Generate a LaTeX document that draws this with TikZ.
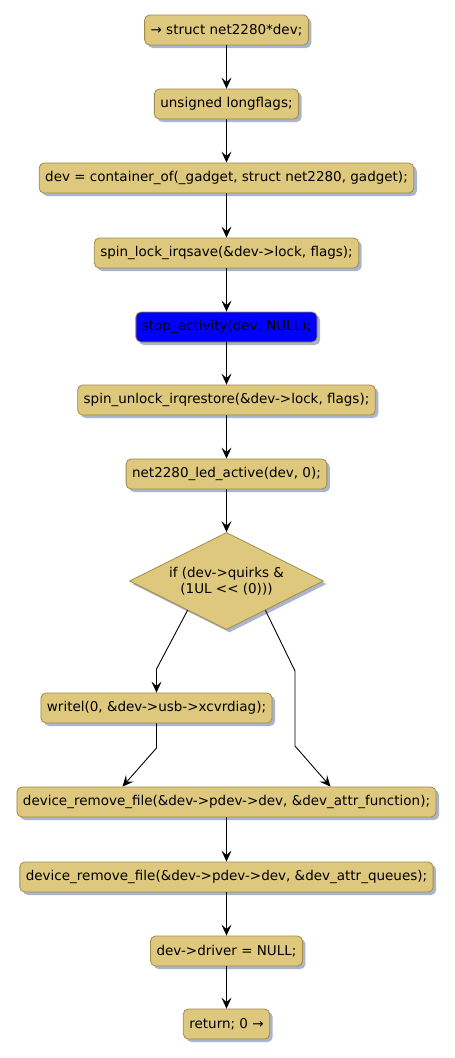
\documentclass[tikz,border=0pt]{standalone}
\usepackage{fontspec}
\setmainfont{DejaVu Sans}
\usetikzlibrary{arrows.meta,shapes.geometric,shadows,calc}
\definecolor{actfill}{RGB}{221,200,125}
\definecolor{actline}{RGB}{160,140,70}
\definecolor{shadowcol}{RGB}{160,172,200}
\definecolor{bluefill}{RGB}{0,0,255}
\begin{document}
\begin{tikzpicture}[x=1pt,y=-1pt,
  font=\fontsize{13.5}{16}\selectfont,
  act/.style={draw=actline, fill=actfill, rounded corners=5pt, minimum height=30pt,
    inner xsep=6pt, inner ysep=0pt, line width=0.8pt,
    drop shadow={shadow xshift=3pt,shadow yshift=-3pt,fill=shadowcol,opacity=0.9}},
  diam/.style={shape=diamond, draw=actline, fill=actfill, aspect=2, minimum width=194pt,
    minimum height=97pt, inner sep=0pt, align=center, line width=0.8pt,
    drop shadow={shadow xshift=3pt,shadow yshift=-3pt,fill=shadowcol,opacity=0.9}},
  flow/.style={-{Stealth[length=11pt,width=10pt,inset=4.5pt]}, line width=0.9pt}]
\fill[white] (0,0) rectangle (455,1058);
\useasboundingbox (0,0) rectangle (455,1058);
\node[act] (n1) at (226.5,30) {→ struct net2280*dev;};
\node[act] (n2) at (226.5,104) {unsigned longflags;};
\node[act] (n3) at (226.5,178) {dev = container\_of(\_gadget, struct net2280, gadget);};
\node[act] (n4) at (226.5,253) {spin\_lock\_irqsave(\&dev->lock, flags);};
\node[act, fill=bluefill] (n5) at (226.5,327) {stop\_activity(dev, NULL);};
\node[act] (n6) at (226.5,400) {spin\_unlock\_irqrestore(\&dev->lock, flags);};
\node[act] (n7) at (226.5,474) {net2280\_led\_active(dev, 0);};
\node[diam] (d) at (226.5,581) {if (dev->quirks \&\\(1UL <\kern0pt< (0)))};
\node[act] (w) at (156.5,708) {writel(0, \&dev->usb->xcvrdiag);};
\node[act] (f1) at (226.5,802) {device\_remove\_file(\&dev->pdev->dev, \&dev\_attr\_function);};
\node[act] (f2) at (226.5,877) {device\_remove\_file(\&dev->pdev->dev, \&dev\_attr\_queues);};
\node[act] (n12) at (226.5,951) {dev->driver = NULL;};
\node[act] (n13) at (226.5,1024) {return; 0 →};
\draw[flow] (n1) -- (n2);
\draw[flow] (n2) -- (n3);
\draw[flow] (n3) -- (n4);
\draw[flow] (n4) -- (n5);
\draw[flow] (n5) -- (n6);
\draw[flow] (n6) -- (n7);
\draw[flow] (n7) -- (d);
\coordinate (dl) at ($(d.west)!0.6!(d.south)$);
\coordinate (dr) at ($(d.east)!0.6!(d.south)$);
\draw[flow] (dl) -- (156.5,669) -- (w.north);
\draw[flow] (dr) -- (295,671) -- (295,746) -- ([xshift=104pt]f1.north);
\draw[flow] (w.south) -- (156.5,748) -- ([xshift=-104pt]f1.north);
\draw[flow] (f1) -- (f2);
\draw[flow] (f2) -- (n12);
\draw[flow] (n12) -- (n13);
\end{tikzpicture}
\end{document}
